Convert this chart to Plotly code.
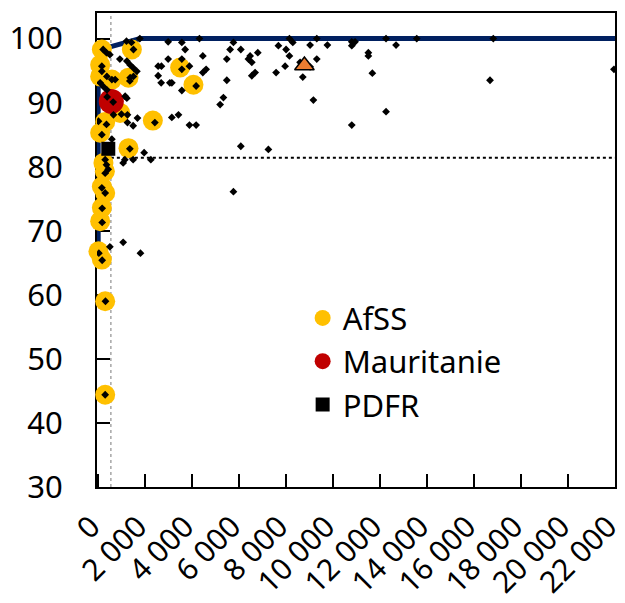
import plotly.graph_objects as go

# ---- data ----
world_x = [213, 353, 498, 157, 157, 370, 583, 723, 85, 226, 370, 923, 651, 13, 353, 157, 583,
           298, 353, 426, 298, 157, 298, 170, 170, 498, 30, 170, 311, 298, 383, 638,
           1204, 1417, 1774, 1502, 1221, 1362, 1502, 1647, 1362, 1502, 1349, 1149, 1221, 991,
           1247, 1672, 1247, 1489, 1349, 1957, 2242, 1136, 1064, 1489, 1064, 1800, 2413, 2553,
           2693, 2553, 2681, 3051, 2979, 2979,
           3561, 4310, 5757, 3702, 5617, 6072, 4455, 6795, 6468, 6395, 6540, 5476, 3561, 3561,
           3885, 4455, 4595, 6540, 6680, 7574, 3136, 3561, 4170, 5476, 5331, 5191, 3136, 3417,
           3885, 4170, 6072, 7246, 5757, 7672,
           8140, 8285, 7999, 8140, 9021, 9306, 9757, 10795, 10935, 10795, 11501, 11501, 7957,
           8595, 9021, 9306, 8710, 9161, 10795, 11671, 12254, 12680, 13561, 12254,
           16820, 16680, 21956]
world_y = [98.3, 97.8, 97.5, 95.7, 94.9, 94.1, 93.6, 93.6, 93.1, 92.5, 92.0, 96.8, 88.1, 87.1, 86.6, 85.0, 84.3,
           81.1, 80.3, 79.6, 79.0, 76.7, 75.9, 73.5, 71.3, 67.5, 66.5, 65.4, 59.0, 44.4, 90.9, 90.1,
           99.6, 99.4, 100.0, 98.3, 96.5, 95.9, 95.4, 94.9, 93.9, 94.1, 93.4, 91.0, 90.7, 88.2,
           88.1, 87.6, 86.9, 86.4, 82.8, 82.2, 81.1, 81.1, 80.6, 81.1, 68.2, 66.5, 86.9, 95.7,
           95.7, 94.2, 93.1, 93.1, 99.5, 96.8,
           99.4, 100.0, 99.4, 98.3, 98.3, 98.3, 97.3, 97.8, 97.3, 96.8, 96.3, 96.8, 96.8, 95.2,
           95.7, 94.7, 95.2, 94.2, 94.7, 94.7, 93.1, 91.9, 92.6, 93.5, 90.8, 89.7, 87.7, 88.1,
           86.5, 86.5, 83.2, 82.7, 76.1, 98.9,
           100.0, 99.4, 98.3, 97.3, 99.0, 100.0, 99.0, 99.5, 99.5, 98.9, 97.8, 97.3, 95.7,
           96.3, 95.6, 96.8, 94.0, 90.4, 86.5, 94.6, 100.0, 99.0, 100.0, 88.6,
           100.0, 93.5, 95.2]

afss_x = [157, 1434, 85, 85, 583, 1289, 3489, 4055, 936, 298, 85, 2327, 1289, 225, 285,
          157, 298, 157, 85, 13, 157, 298, 298]
afss_y = [98.3, 98.3, 95.9, 94.1, 93.6, 93.9, 95.5, 92.8, 88.4, 87.0, 85.3, 87.2, 82.9, 80.6, 79.3,
          76.9, 75.9, 73.6, 71.5, 66.8, 65.5, 59.0, 44.4]

mauritanie_x = [560]
mauritanie_y = [90.2]

pdfr_x = [430]
pdfr_y = [82.8]

highlight_x = [8779]
highlight_y = [95.8]

frontier_x = [0, 0, 1790, 22000]
frontier_y = [67.9, 98.2, 100, 100]

ref_x = 540      # vertical dotted reference
ref_y = 81.4     # horizontal dotted reference

x_ticks = [0, 2000, 4000, 6000, 8000, 10000, 12000, 14000, 16000, 18000, 20000, 22000]
x_tick_labels = ["0", "2 000", "4 000", "6 000", "8 000", "10 000", "12 000", "14 000",
                 "16 000", "18 000", "20 000", "22 000"]
y_ticks = [30, 40, 50, 60, 70, 80, 90, 100]
y_tick_labels = ["30", "40", "50", "60", "70", "80", "90", "100"]

FONT = "Noto Sans"

fig = go.Figure()

fig.add_trace(go.Scatter(x=frontier_x, y=frontier_y, mode="lines",
                         line=dict(color="#002060", width=5), showlegend=False, hoverinfo="skip"))
fig.add_trace(go.Scatter(x=[ref_x, ref_x], y=[30, 104], mode="lines",
                         line=dict(color="#a6a6a6", width=1.5, dash="dot"), showlegend=False, hoverinfo="skip"))
fig.add_trace(go.Scatter(x=[ref_x, 22000], y=[ref_y, ref_y], mode="lines",
                         line=dict(color="black", width=2, dash="dot"), showlegend=False, hoverinfo="skip"))

fig.add_trace(go.Scatter(x=afss_x, y=afss_y, mode="markers", name="AfSS", cliponaxis=False,
                         marker=dict(symbol="circle", size=20, color="#FFC000")))
fig.add_trace(go.Scatter(x=mauritanie_x, y=mauritanie_y, mode="markers", name="Mauritanie",
                         marker=dict(symbol="circle", size=25, color="#C00000")))
fig.add_trace(go.Scatter(x=world_x, y=world_y, mode="markers", showlegend=False,
                         marker=dict(symbol="diamond", size=6, color="black")))
fig.add_trace(go.Scatter(x=pdfr_x, y=pdfr_y, mode="markers", name="PDFR",
                         marker=dict(symbol="square", size=14, color="black")))
fig.add_trace(go.Scatter(x=highlight_x, y=highlight_y, mode="markers", showlegend=False,
                         marker=dict(symbol="triangle-up", size=17, color="#ED7D31",
                                     line=dict(color="black", width=1.5))))

fig.update_layout(
    width=625, height=603,
    margin=dict(l=97, r=10, t=13, b=116),
    paper_bgcolor="white", plot_bgcolor="white",
    font=dict(family=FONT, size=31, color="black"),
    legend=dict(x=0.397, y=0.413, xanchor="left", yanchor="top",
                bgcolor="rgba(0,0,0,0)", font=dict(size=31, family=FONT)),
    showlegend=True,
)
fig.update_xaxes(range=[-50, 22000.5], tickvals=x_ticks, ticktext=x_tick_labels, tickangle=-45,
                 ticks="inside", ticklen=13, tickwidth=2, tickcolor="black",
                 showline=True, linecolor="black", linewidth=2, mirror=True,
                 showgrid=False, zeroline=False, layer="below traces", automargin=False,
                 ticklabeloverflow="allow", ticklabelshift=-7,
                 tickfont=dict(size=30, family=FONT), ticklabelstandoff=8)
fig.update_yaxes(range=[30, 104], tickvals=y_ticks, ticktext=y_tick_labels,
                 ticks="inside", ticklen=13, tickwidth=2, tickcolor="black",
                 showline=True, linecolor="black", linewidth=2, mirror=True,
                 showgrid=False, zeroline=False, layer="below traces", automargin=False,
                 tickfont=dict(size=31, family=FONT), ticklabelstandoff=26)

fig.write_html("out.html", config={"displayModeBar": False},
               post_script="document.body.style.margin='0';")
